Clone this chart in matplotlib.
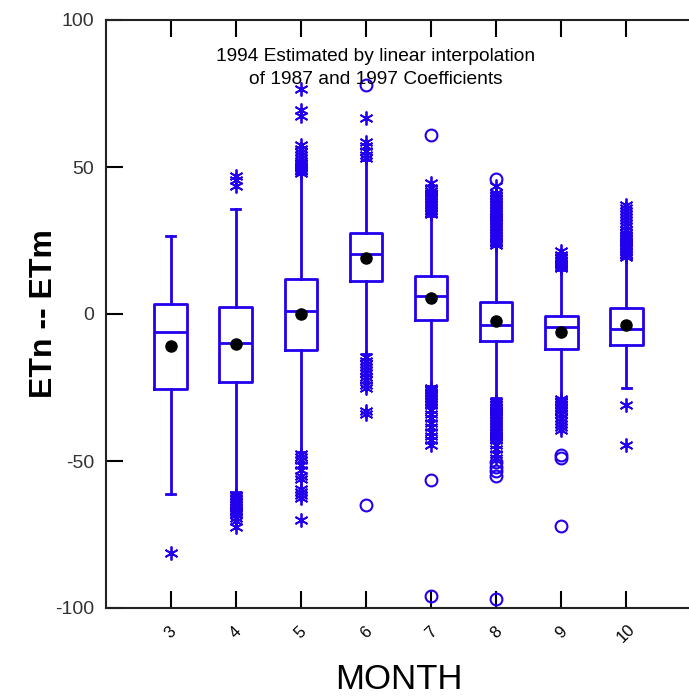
import matplotlib
matplotlib.use("Agg")
import matplotlib.pyplot as plt

plt.rcParams['font.family'] = ['Liberation Sans', 'DejaVu Sans']
plt.rcParams['axes.unicode_minus'] = False

months = [3, 4, 5, 6, 7, 8, 9, 10]
month_labels = ['3', '4', '5', '6', '7', '8', '9', '10']

# box statistics per month
q1 = [-25.6, -23.0, -12.3, 11.2, -2.0, -9.2, -12.0, -10.5]
median = [-6.2, -10.0, 1.0, 20.4, 6.2, -3.7, -4.3, -5.2]
q3 = [3.5, 2.3, 11.8, 27.7, 13.0, 4.2, -0.7, 1.9]
mean = [-10.8, -10.3, 0.0, 18.9, 5.5, -2.4, -6.0, -3.7]
whisker_low = [-61.3, -60.5, -47.0, -13.5, -24.5, -28.7, -28.5, -25.3]
whisker_high = [26.5, 35.6, 47.5, 52.5, 33.5, 23.0, 15.0, 19.0]

# outside values (asterisks) and far-outside values (circles)
outside = [
    [-81.4],
    [43.5, 45.5, 47.0,
     -61.5, -62.0, -62.5, -63.0, -63.5, -64.0, -64.5, -65.0, -65.5, -66.0,
     -66.5, -67.0, -67.5, -68.0, -69.5, -70.5, -72.5],
    [48.0, 48.5, 49.0, 49.5, 50.0, 50.5, 51.0, 51.5, 52.0, 53.0, 54.0, 55.0,
     56.0, 57.5, 67.5, 69.5, 76.5,
     -47.5, -48.5, -49.5, -51.5, -53.0, -55.0, -56.0, -59.5, -60.5, -61.5,
     -62.5, -70.0],
    [53.0, 54.0, 55.5, 57.0, 58.5, 66.5,
     -14.5, -16.0, -17.0, -18.0, -19.0, -20.0, -21.5, -22.5, -24.0, -25.0,
     -33.0, -34.0],
    [34.0, 34.5, 35.0, 35.5, 36.0, 36.5, 37.0, 37.5, 38.0, 38.5, 39.0, 39.5,
     40.0, 40.5, 41.0, 42.0, 43.0, 44.5,
     -25.0, -25.5, -26.0, -26.5, -27.0, -27.5, -28.0, -28.5, -29.0, -29.5,
     -30.0, -30.5, -31.0, -32.5, -34.0, -35.5, -37.0, -38.5, -40.0, -41.5,
     -43.0, -44.5],
    [23.5, 24.0, 24.5, 25.0, 25.5, 26.0, 26.5, 27.0, 27.5, 28.0, 28.5, 29.0,
     29.5, 30.0, 30.5, 31.0, 31.5, 32.0, 32.5, 33.0, 33.5, 34.0, 34.5, 35.0,
     35.5, 36.0, 36.5, 37.0, 37.5, 38.0, 38.5, 39.0, 39.5, 40.0, 40.5, 41.0,
     43.5,
     -29.5, -30.0, -30.5, -31.0, -31.5, -32.0, -32.5, -33.0, -33.5, -34.0,
     -34.5, -35.0, -35.5, -36.0, -36.5, -37.0, -37.5, -38.0, -38.5, -39.0,
     -39.5, -40.0, -40.5, -41.0, -41.5, -42.0, -42.5, -43.0, -44.5, -46.0,
     -47.5, -49.0],
    [15.5, 16.0, 16.5, 17.0, 17.5, 18.0, 18.5, 19.0, 19.5, 20.0, 21.5,
     -29.0, -29.5, -30.0, -30.5, -31.0, -31.5, -32.0, -32.5, -33.0, -34.0,
     -35.5, -36.5, -37.5, -38.5, -39.5],
    [19.5, 20.0, 20.5, 21.0, 21.5, 22.0, 22.5, 23.0, 23.5, 24.0, 24.5, 25.0,
     25.5, 26.0, 26.5, 27.0, 27.5, 28.5, 30.0, 31.0, 32.0, 33.0, 34.0, 35.0,
     36.0, 37.0,
     -31.0, -44.6],
]
far_outside = [
    [],
    [],
    [],
    [78.0, -65.0],
    [61.0, -56.5, -96.0],
    [46.0, -50.5, -52.0, -53.5, -55.0, -97.0],
    [-48.0, -49.0, -72.0],
    [],
]

blue = '#2200ee'

fig = plt.figure(figsize=(6.89, 7.00), dpi=100)
ax = fig.add_axes([105.5 / 689, 92 / 700, 586 / 689, 588 / 700])

stats = []
for i, m in enumerate(months):
    stats.append(dict(med=median[i], q1=q1[i], q3=q3[i],
                      whislo=whisker_low[i], whishi=whisker_high[i],
                      fliers=[], label=month_labels[i]))

ax.bxp(stats, positions=months, widths=0.5, capwidths=0.13,
       showfliers=False, showmeans=False, manage_ticks=False,
       boxprops=dict(color=blue, linewidth=2),
       medianprops=dict(color=blue, linewidth=2),
       whiskerprops=dict(color=blue, linewidth=2),
       capprops=dict(color=blue, linewidth=2))

for i, m in enumerate(months):
    if outside[i]:
        ax.plot([m] * len(outside[i]), outside[i], linestyle='none',
                marker=(6, 2, 0), markersize=10, markeredgewidth=1.3,
                color=blue, zorder=3)
    if far_outside[i]:
        ax.plot([m] * len(far_outside[i]), far_outside[i], linestyle='none',
                marker='o', markersize=8.5, markeredgewidth=1.5,
                markerfacecolor='none', markeredgecolor=blue, zorder=3)

ax.plot(months, mean, linestyle='none', marker='o', markersize=8,
        color='black', zorder=4)

ax.set_xlim(2, 11)
ax.set_ylim(-100, 100)

ax.set_yticks([-100, -50, 0, 50, 100])
ax.set_xticks(months)
ax.set_xticklabels(month_labels, rotation=45, ha='center', va='center',
                   fontsize=12)
ax.tick_params(axis='x', direction='in', length=12, width=1.5,
               top=True, bottom=True, pad=18)
ax.tick_params(axis='y', direction='in', length=12, width=1.5,
               left=True, right=False, labelsize=14, labelcolor='#333333',
               pad=8)

for side in ('left', 'bottom', 'top'):
    ax.spines[side].set_linewidth(1.5)
    ax.spines[side].set_color('#222222')
ax.spines['right'].set_visible(False)

ax.set_xlabel('MONTH', fontsize=25, labelpad=13)
ax.set_ylabel('ETn -- ETm', fontsize=23, fontweight='bold', labelpad=-3)

ax.text(6.15, 83.7, '1994 Estimated by linear interpolation\nof 1987 and 1997 Coefficients',
        ha='center', va='center', fontsize=13.8, linespacing=1.5)

fig.savefig('out.png', dpi=100)
